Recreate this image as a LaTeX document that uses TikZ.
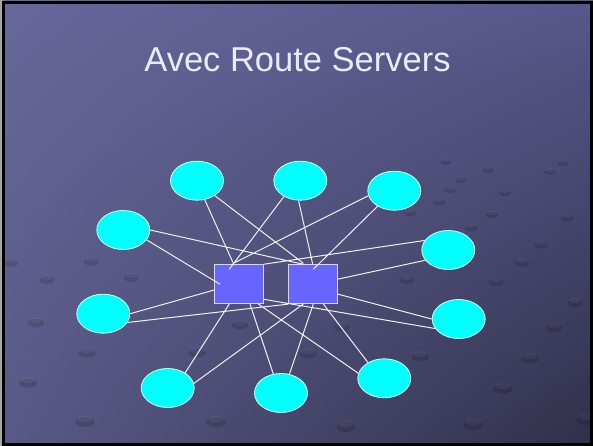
\documentclass[tikz,border=0pt]{standalone}
\usepackage{fontspec}
\setmainfont{Liberation Sans}
\usetikzlibrary{calc, positioning, shapes.geometric, shadings}

\definecolor{bgtl}{HTML}{67679B}
\definecolor{bgtr}{HTML}{57578A}
\definecolor{bgbl}{HTML}{595987}
\definecolor{bgbr}{HTML}{30304A}
\definecolor{peercyan}{HTML}{00FFFF}
\definecolor{srvblue}{HTML}{6666FF}
\definecolor{titlefg}{HTML}{EAEAF8}

\tikzset{
    peer/.style={ellipse, draw=white!85!peercyan, line width=0.8pt, fill=peercyan, minimum width=53pt, minimum height=39pt, inner sep=0pt},
    server/.style={draw=white!75!srvblue, line width=0.9pt, fill=srvblue, minimum width=48.5pt, minimum height=39pt, inner sep=0pt},
    link/.style={draw=white!94!black, line width=1pt}
}

\begin{document}
\begin{tikzpicture}[x=1pt, y=1pt]
                        \useasboundingbox (0,0) rectangle (593,446);
                        \fill[gray!70] (0,0) rectangle (593,446);
                        \shade[upper left=bgtl, upper right=bgtr, lower left=bgbl, lower right=bgbr] (3,0) rectangle (593,445);
                        % background dots
                        \foreach \dx/\dy in {563/163, 550/172, 505/193, 522/263, 496/282, 575/303, 554/328, 530/359, 503/389, 473/425,
                                586/420, 420/357, 407/280, 308/354, 346/427, 216/422, 85/422, 28/383, 87/353, 36/323,
                                11/263, 47/280, 131/278, 91/262, 197/353, 240/325, 342/327, 410/213, 492/215, 567/218,
                                541/245, 471/228, 450/190, 439/202, 461/180, 488/170, 446/162}
                        {
                            \fill[black, opacity=0.14] (\dx,446-\dy) ellipse ({3+7*\dy/446} and {1.6+3.6*\dy/446});
                            \fill[white, opacity=0.05] (\dx,447-\dy+\dy/200) ellipse ({2.4+5.6*\dy/446} and {1+2.4*\dy/446});
                        }
                        \draw[black, line width=3pt] (3.5,1.8) rectangle (591.8,443.5);
                        \node[text=titlefg, font=\fontsize{34.5}{40}\selectfont, anchor=base] (title) at (297.5,374.5) {Avec Route Servers};
                        \node[server] (rs1) at (239,161.8) {};
                        \node[server] (rs2) at (312.7,161.8) {};
                        \node[peer] (p1) at (197,265.3) {};
                        \node[peer] (p2) at (300.3,265.3) {};
                        \node[peer] (p3) at (394.3,255.3) {};
                        \node[peer] (p4) at (123.3,216) {};
                        \node[peer] (p5) at (448.3,196) {};
                        \node[peer] (p6) at (103.3,132.3) {};
                        \node[peer] (p7) at (458.7,127) {};
                        \node[peer] (p8) at (167.7,58) {};
                        \node[peer] (p9) at (281,53) {};
                        \node[peer] (p10) at (384.3,67.7) {};
                        \draw[link]
                        (p1.-68.6) -- ($(rs1)+(-5.7,20.9)$)
                        (p1.-40.4) -- ($(rs2)+(-9.4,20.9)$)
                        (p2.-136.7) -- ($(rs1)+(-9.7,14.9)$)
                        (p2.-95.7) -- (rs2.north)
                        (p3.-169) -- ($(rs1)+(-5.7,20.9)$)
                        (p3.-137.7) -- ($(rs2)+(0.6,14.9)$)
                        (p4.-23.8) -- ($(rs1)+(-19,0)$)
                        (p4.0) -- ($(rs2)+(-9.4,19.9)$)
                        (p5.158.2) -- (rs1.north east)
                        (p5.-156.3) -- ($(rs2)+(24.6,4.9)$)
                        (p6.0) -- ($(rs1)+(-24.7,-5.8)$)
                        (p6.-20.6) -- (rs2.south west)
                        (p7.-158.6) -- ($(rs1)+(24.7,-15.1)$)
                        (p7.180) -- ($(rs2)+(24.6,-9.8)$)
                        (p8.41.5) -- ($(rs1)+(-9.7,-19.8)$)
                        (p8.10.4) -- ($(rs2)+(-9.4,-19.8)$)
                        (p9.112) -- ($(rs1)+(11,-19.8)$)
                        (p9.66.4) -- ($(rs2)+(0.6,-19.8)$)
                        (p10.169.4) -- ($(rs1)+(19.3,-19.8)$)
                        (p10.136.7) -- ($(rs2)+(10.6,-19.8)$);
                    \end{tikzpicture}
\end{document}
